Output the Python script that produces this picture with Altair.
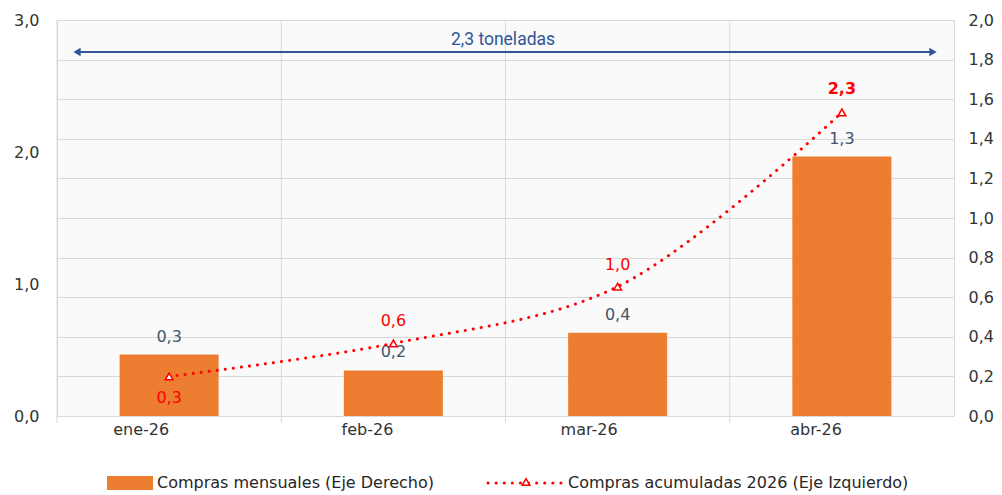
import altair as alt
import pandas as pd

# ---- data ----
months = ["ene-26", "feb-26", "mar-26", "abr-26"]
mensual = [0.31, 0.23, 0.42, 1.31]          # right axis (bars)
acumulada = [0.30, 0.55, 0.98, 2.30]        # left axis (line)
mensual_labels = ["0,3", "0,2", "0,4", "1,3"]
acumulada_labels = ["0,3", "0,6", "1,0", "2,3"]
left_ticks = [0.0, 1.0, 2.0, 3.0]
right_ticks = [0.0, 0.2, 0.4, 0.6, 0.8, 1.0, 1.2, 1.4, 1.6, 1.8, 2.0]
annotation_text = ["2,3 toneladas"]
legend_labels = ["Compras mensuales (Eje Derecho)", "Compras acumuladas 2026 (Eje Izquierdo)"]

df = pd.DataFrame({
    "mes": months,
    "mensual": mensual,
    "acumulada": acumulada,
    "lab_m": mensual_labels,
    "lab_a": acumulada_labels,
})

W, H = 897, 396
FONT = "DejaVu Sans"
ORANGE = "#ED7D31"
RED = "#FF0000"
NAVY = "#44546A"
ARROW = "#2F5597"
GRID = "#d9d9d9"
LBL = "#333333"
FS = 16
fmt = "replace(format(datum.value, '.1f'), '.', ',')"

x_enc = alt.X(
    "mes:N", sort=months,
    scale=alt.Scale(paddingInner=0, paddingOuter=0),
    axis=alt.Axis(title=None, labelAngle=0, ticks=False, domain=False, grid=False,
                  labelPadding=13, labelFontSize=FS, labelColor=LBL, labelFont=FONT),
)
x_plain = alt.X("mes:N", sort=months)

base = alt.Chart(df)

# vertical separators between months
vgrid = base.mark_rule(color=GRID, strokeWidth=1).encode(
    x=alt.X("mes:N", sort=months, bandPosition=0),
    y=alt.value(0), y2=alt.value(H + 7),
)

y_bar = alt.Y("mensual:Q", scale=alt.Scale(domain=[0, 2], nice=False, zero=True),
              axis=alt.Axis(orient="right", values=right_ticks, tickCount=30, labelExpr=fmt, title=None,
                            grid=True, gridColor=GRID, domain=False, ticks=False,
                            labelOverlap=False, labelBound=False, labelFlush=False,
                            labelPadding=14, labelFontSize=FS, labelColor=LBL, labelFont=FONT))

bars = base.mark_bar(size=99, color=ORANGE).encode(x=x_enc, y=y_bar)
bar_text = base.mark_text(dy=-18, color=NAVY, fontSize=FS, font=FONT).encode(
    x=x_plain, y=y_bar, text="lab_m:N"
)
bars_group = alt.layer(vgrid, bars, bar_text)

y_line = alt.Y("acumulada:Q", scale=alt.Scale(domain=[0, 3], nice=False),
               axis=alt.Axis(orient="left", values=left_ticks, labelExpr=fmt, title=None,
                             grid=False, domain=False, ticks=False,
                             labelOverlap=False, labelBound=False, labelFlush=False,
                             labelPadding=18, labelFontSize=FS, labelColor=LBL, labelFont=FONT))

line = base.mark_line(color=RED, strokeWidth=3, strokeDash=[0.1, 8], strokeCap="round",
                      interpolate="catmull-rom").encode(x=x_plain, y=y_line)
pts = base.mark_point(shape="triangle-up", filled=True, fill="white", stroke=RED,
                      strokeWidth=1.5, size=60, opacity=1).encode(x=x_plain, y=y_line)

t_below = base.transform_filter(alt.datum.mes == months[0]).mark_text(
    dy=22, color=RED, fontSize=FS, font=FONT).encode(x=x_plain, y=y_line, text="lab_a:N")
t_above = base.transform_filter(alt.FieldOneOfPredicate(field="mes", oneOf=months[1:3])).mark_text(
    dy=-22, color=RED, fontSize=FS, font=FONT).encode(x=x_plain, y=y_line, text="lab_a:N")
t_bold = base.transform_filter(alt.datum.mes == months[3]).mark_text(
    dy=-23, color=RED, fontSize=FS, font=FONT, fontWeight="bold").encode(x=x_plain, y=y_line, text="lab_a:N")

# annotation arrow
ann = alt.Chart(pd.DataFrame({"t": annotation_text}))
arrow_line = ann.mark_rule(color=ARROW, strokeWidth=2).encode(
    x=alt.value(20), x2=alt.value(876), y=alt.value(32))
arrow_l = ann.mark_point(shape="triangle-left", filled=True, color=ARROW, size=70, opacity=1).encode(
    x=alt.value(20), y=alt.value(32))
arrow_r = ann.mark_point(shape="triangle-right", filled=True, color=ARROW, size=70, opacity=1).encode(
    x=alt.value(876), y=alt.value(32))
arrow_txt = ann.mark_text(color=ARROW, fontSize=17.5, font="Roboto").encode(
    x=alt.value(446), y=alt.value(20), text="t:N")

# legend
leg = alt.Chart(pd.DataFrame({"a": legend_labels[:1], "b": legend_labels[1:]}))
leg_rect = leg.mark_rect(color=ORANGE).encode(
    x=alt.value(50), x2=alt.value(96), y=alt.value(456), y2=alt.value(470))
leg_t1 = leg.mark_text(align="left", color="#262626", fontSize=FS, font=FONT).encode(
    x=alt.value(100), y=alt.value(463), text="a:N")
leg_line = leg.mark_rule(color=RED, strokeWidth=3, strokeDash=[0.1, 8], strokeCap="round").encode(
    x=alt.value(431), x2=alt.value(506), y=alt.value(463))
leg_pt = leg.mark_point(shape="triangle-up", filled=True, fill="white", stroke=RED,
                        strokeWidth=1.5, size=60, opacity=1).encode(x=alt.value(469), y=alt.value(462))
leg_t2 = leg.mark_text(align="left", color="#262626", fontSize=FS, font=FONT).encode(
    x=alt.value(511), y=alt.value(463), text="b:N")

line_group = alt.layer(line, pts, t_below, t_above, t_bold,
                       arrow_line, arrow_l, arrow_r, arrow_txt,
                       leg_rect, leg_t1, leg_line, leg_pt, leg_t2)

chart = alt.layer(bars_group, line_group).resolve_scale(y="independent").properties(
    width=W, height=H,
    padding={"left": 57, "top": 20, "right": 48, "bottom": 79},
    autosize=alt.AutoSizeParams(type="none"),
    background="white",
).configure_view(fill="#fafafa", stroke=GRID)

chart.save("out.html", embed_options={"renderer": "svg", "actions": False})
